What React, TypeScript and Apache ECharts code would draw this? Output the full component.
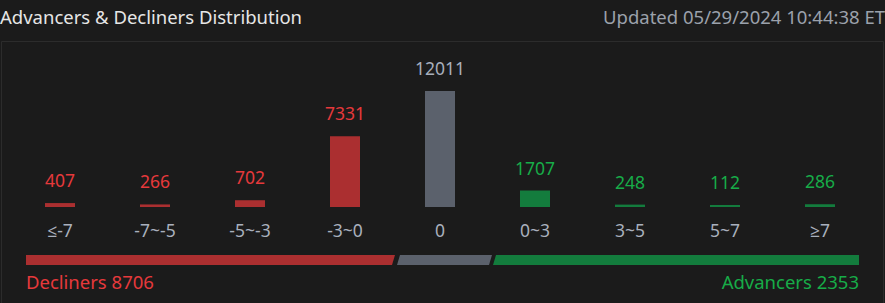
import React, { useEffect, useRef } from "react";
import * as echarts from "echarts";

const categories = ["≤-7", "-7~-5", "-5~-3", "-3~0", "0", "0~3", "3~5", "5~7", "≥7"];
const counts = [407, 266, 702, 7331, 12011, 1707, 248, 112, 286];
const groups = ["down", "down", "down", "down", "flat", "up", "up", "up", "up"];
const declinersTotal = 8706;
const advancersTotal = 2353;
const titleText = "Advancers & Decliners Distribution";
const updatedText = "Updated 05/29/2024 10:44:38 ET";

const barColors: Record<string, string> = { down: "#ab2f30", flat: "#5b616c", up: "#137c3d" };
const labelColors: Record<string, string> = { down: "#e6393b", flat: "#a7aebb", up: "#17ac48" };
const FONT = "'Noto Sans', 'Open Sans', sans-serif";

export default function App() {
  const ref = useRef<HTMLDivElement>(null);
  useEffect(() => {
    document.body.style.margin = "0";
    document.body.style.background = "#1b1b1b";
    const chart = echarts.init(ref.current!, undefined, { renderer: "svg" });
    const barY = 255;
    const barH = 10;
    const s = 3;
    chart.setOption({
      animation: false,
      backgroundColor: "#1b1b1b",
      grid: { left: 12.5, right: 17.5, top: 91, bottom: 96 },
      xAxis: {
        type: "category",
        data: categories,
        axisLine: { show: false },
        axisTick: { show: false },
        axisLabel: { color: "#a9b0bd", fontSize: 17.5, fontFamily: FONT, margin: 14 },
      },
      yAxis: { type: "value", min: 0, max: 12011, show: false, splitLine: { show: false } },
      series: [
        {
          type: "bar",
          barWidth: 30,
          barMinHeight: 2,
          data: counts.map((v, i) => ({
            value: v,
            itemStyle: { color: barColors[groups[i]] },
            label: { color: labelColors[groups[i]] },
          })),
          label: { show: true, position: "top", distance: 14, fontSize: 17.5, fontFamily: FONT },
        },
      ],
      graphic: [
        {
          type: "rect",
          shape: { x: 1.5, y: 41.5, width: 882, height: 270 },
          style: { fill: "none", stroke: "#2c2c2c", lineWidth: 1 },
          silent: true,
        },
        {
          type: "text",
          left: 0,
          top: 7,
          style: { text: titleText, fill: "#e6e6e6", font: `18.5px ${FONT}` },
        },
        {
          type: "text",
          right: 0,
          top: 7,
          style: { text: updatedText, fill: "#9ba1ab", font: `18.5px ${FONT}` },
        },
        {
          type: "polygon",
          shape: { points: [[26, barY], [395, barY], [395 - s, barY + barH], [26, barY + barH]] },
          style: { fill: barColors.down },
        },
        {
          type: "polygon",
          shape: { points: [[400, barY], [492, barY], [492 - s, barY + barH], [400 - s, barY + barH]] },
          style: { fill: barColors.flat },
        },
        {
          type: "polygon",
          shape: { points: [[496, barY], [859, barY], [859, barY + barH], [496 - s, barY + barH]] },
          style: { fill: barColors.up },
        },
        {
          type: "text",
          left: 26,
          top: 272,
          style: { text: `Decliners ${declinersTotal}`, fill: labelColors.down, font: `18.5px ${FONT}` },
        },
        {
          type: "text",
          right: 26,
          top: 272,
          style: { text: `Advancers ${advancersTotal}`, fill: labelColors.up, font: `18.5px ${FONT}` },
        },
      ],
    });
    return () => chart.dispose();
  }, []);
  return <div ref={ref} style={{ width: 885, height: 303 }} />;
}
